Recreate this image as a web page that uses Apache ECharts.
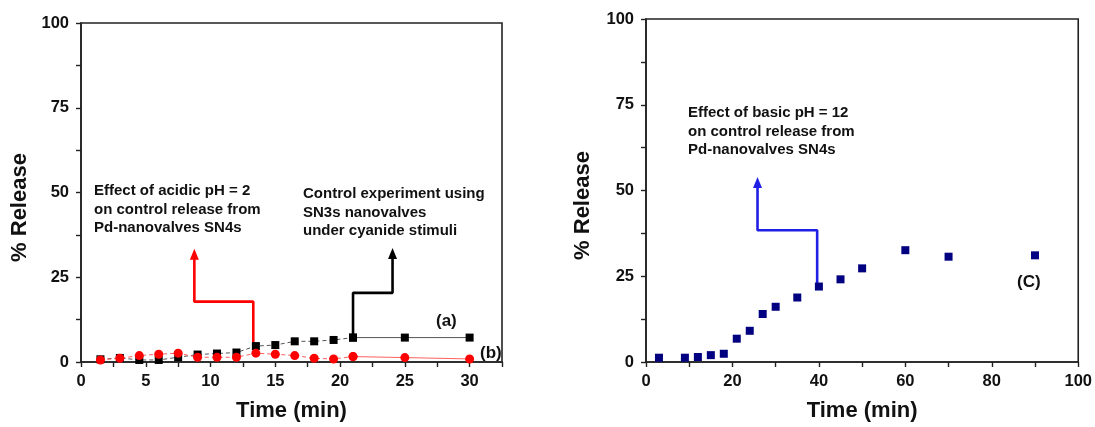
<!DOCTYPE html>
<html>
<head>
<meta charset="utf-8">
<script src="https://cdn.jsdelivr.net/npm/echarts@6/dist/echarts.min.js"></script>
<style>
  html, body { margin: 0; padding: 0; background: #fff; }
  #chart { width: 1095px; height: 427px; }
</style>
</head>
<body>
<div id="chart"></div>
<script>
// left panel: time points and release for (a) control SN3s and (b) acidic pH
const timeLeft = [1.5, 3, 4.5, 6, 7.5, 9, 10.5, 12, 13.5, 15, 16.5, 18, 19.5, 21, 25, 30]
const releaseA = [0.8, 1.2, 0.6, 0.6, 1.4, 2.2, 2.5, 2.8, 4.7, 5.0, 6.1, 6.1, 6.5, 7.2, 7.2, 7.2]
const releaseB = [0.6, 1.1, 1.9, 2.3, 2.6, 1.4, 1.4, 1.4, 2.6, 2.3, 1.9, 1.1, 0.9, 1.6, 1.3, 0.9]

// right panel: basic pH (C)
const timeRight = [3, 9, 12, 15, 18, 21, 24, 27, 30, 35, 40, 45, 50, 60, 70, 90]
const releaseC = [1.25, 1.25, 1.45, 2.0, 2.4, 6.8, 9.1, 14.0, 16.1, 18.8, 22.0, 24.1, 27.3, 32.6, 30.7, 31.1]

// annotation arrow paths (data coords)
const redArrowX = [13.3, 13.3, 8.75, 8.75]
const redArrowY = [4.6, 17.8, 17.8, 31.8]
const blackArrowX = [21, 21, 24.05, 24.05]
const blackArrowY = [7.2, 20.4, 20.4, 32.0]
const blueArrowX = [39.6, 39.6, 25.8, 25.8]
const blueArrowY = [22, 38.4, 38.4, 52.3]

const yTicks = [0, 25, 50, 75, 100]
const dashedUntil = 14 // index of t=21, where the lines turn solid

const FONT = "'Liberation Sans', Arial, sans-serif"

function pairs(xs, ys) {
  return xs.map((x, i) => [x, ys[i]])
}

function arrowData(xs, ys) {
  return xs.map((x, i) => {
    const last = i === xs.length - 1
    return {
      value: [x, ys[i]],
      symbol: last ? 'triangle' : 'none',
      symbolSize: last ? [9, 11] : 0,
    }
  })
}

function xAxisOf(gridIndex, max, interval) {
  return {
    gridIndex,
    type: 'value',
    min: 0,
    max,
    interval,
    name: 'Time (min)',
    nameLocation: 'middle',
    nameGap: 38,
    nameTextStyle: { color: '#111', fontSize: 22, fontWeight: 'bold', fontFamily: FONT },
    axisLine: { onZero: false, lineStyle: { color: '#222', width: 1.6 } },
    axisTick: { show: true, length: 5, lineStyle: { color: '#222', width: 1.4 } },
    minorTick: { show: true, splitNumber: 2, length: 5, lineStyle: { color: '#222', width: 1.4 } },
    axisLabel: {
      color: '#111', fontSize: 16.5, fontWeight: 'bold', fontFamily: FONT, margin: 11,
      showMaxLabel: max % interval === 0,
    },
    splitLine: { show: false },
  }
}

function yAxisOf(gridIndex, nameGap) {
  return {
    gridIndex,
    type: 'value',
    min: 0,
    max: 100,
    interval: 25,
    name: '% Release',
    nameLocation: 'middle',
    nameGap,
    nameTextStyle: {
      color: '#111', fontSize: 22, fontWeight: 'bold', fontFamily: FONT,
      padding: [0, 30, 0, 0],
    },
    axisLine: { lineStyle: { color: '#222', width: 1.6 } },
    axisTick: { show: true, length: 5, lineStyle: { color: '#222', width: 1.4 } },
    minorTick: { show: true, splitNumber: 2, length: 5, lineStyle: { color: '#222', width: 1.4 } },
    axisLabel: {
      color: '#111', fontSize: 16.5, fontWeight: 'bold', fontFamily: FONT, margin: 12,
      formatter: v => (yTicks.includes(v) ? String(v) : ''),
    },
    splitLine: { show: false },
  }
}

function arrowSeries(xs, ys, color, axis) {
  return {
    type: 'line',
    xAxisIndex: axis,
    yAxisIndex: axis,
    data: arrowData(xs, ys),
    showSymbol: true,
    itemStyle: { color },
    lineStyle: { color, width: 2.6 },
    silent: true,
    z: 1,
  }
}

function textBlock(left, top, lines) {
  return {
    type: 'text',
    left,
    top,
    style: {
      text: lines.join('\n'),
      fill: '#111',
      font: `bold 15px ${FONT}`,
      lineHeight: 18.5,
    },
  }
}

function tag(left, top, text) {
  return { type: 'text', left, top, style: { text, fill: '#111', font: `bold 17px ${FONT}` } }
}

const chart = echarts.init(document.getElementById('chart'))

chart.setOption({
  animation: false,
  backgroundColor: '#fff',
  grid: [
    { left: 81, top: 23, width: 421, height: 339, show: true, borderColor: '#222', borderWidth: 1.6 },
    { left: 646, top: 19, width: 434, height: 344, show: true, borderColor: '#222', borderWidth: 1.6 },
  ],
  xAxis: [xAxisOf(0, 32.5, 5), xAxisOf(1, 100, 20)],
  yAxis: [yAxisOf(0, 50), yAxisOf(1, 52)],
  series: [
    arrowSeries(redArrowX, redArrowY, '#ff0000', 0),
    arrowSeries(blackArrowX, blackArrowY, '#000000', 0),
    arrowSeries(blueArrowX, blueArrowY, '#1f1fe6', 1),
    {
      name: '(a)',
      type: 'line',
      data: pairs(timeLeft, releaseA).slice(0, dashedUntil),
      symbol: 'rect',
      symbolSize: 8,
      itemStyle: { color: '#000' },
      lineStyle: { color: '#555', width: 1, type: [4, 3] },
      z: 3,
    },
    {
      name: '(a) tail',
      type: 'line',
      data: pairs(timeLeft, releaseA).slice(dashedUntil - 1),
      symbol: 'rect',
      symbolSize: 8,
      itemStyle: { color: '#000' },
      lineStyle: { color: '#555', width: 1 },
      z: 3,
    },
    {
      name: '(b)',
      type: 'line',
      data: pairs(timeLeft, releaseB).slice(0, dashedUntil),
      symbol: 'circle',
      symbolSize: 9,
      itemStyle: { color: '#ff0000' },
      lineStyle: { color: '#ff6060', width: 1, type: [4, 3] },
      z: 4,
    },
    {
      name: '(b) tail',
      type: 'line',
      data: pairs(timeLeft, releaseB).slice(dashedUntil - 1),
      symbol: 'circle',
      symbolSize: 9,
      itemStyle: { color: '#ff0000' },
      lineStyle: { color: '#ff6060', width: 1 },
      z: 4,
    },
    {
      name: '(C)',
      type: 'scatter',
      xAxisIndex: 1,
      yAxisIndex: 1,
      data: pairs(timeRight, releaseC),
      symbol: 'rect',
      symbolSize: 8,
      itemStyle: { color: '#000080', opacity: 1 },
      z: 3,
    },
  ],
  graphic: [
    textBlock(94, 182, ['Effect of acidic pH = 2', 'on control release from', 'Pd-nanovalves SN4s']),
    textBlock(303, 185, ['Control experiment using', 'SN3s nanovalves', 'under cyanide stimuli']),
    textBlock(688, 104, ['Effect of basic pH = 12', 'on control release from', 'Pd-nanovalves SN4s']),
    tag(436, 313, '(a)'),
    tag(480, 345, '(b)'),
    tag(1017, 274, '(C)'),
  ],
})
</script>
</body>
</html>
